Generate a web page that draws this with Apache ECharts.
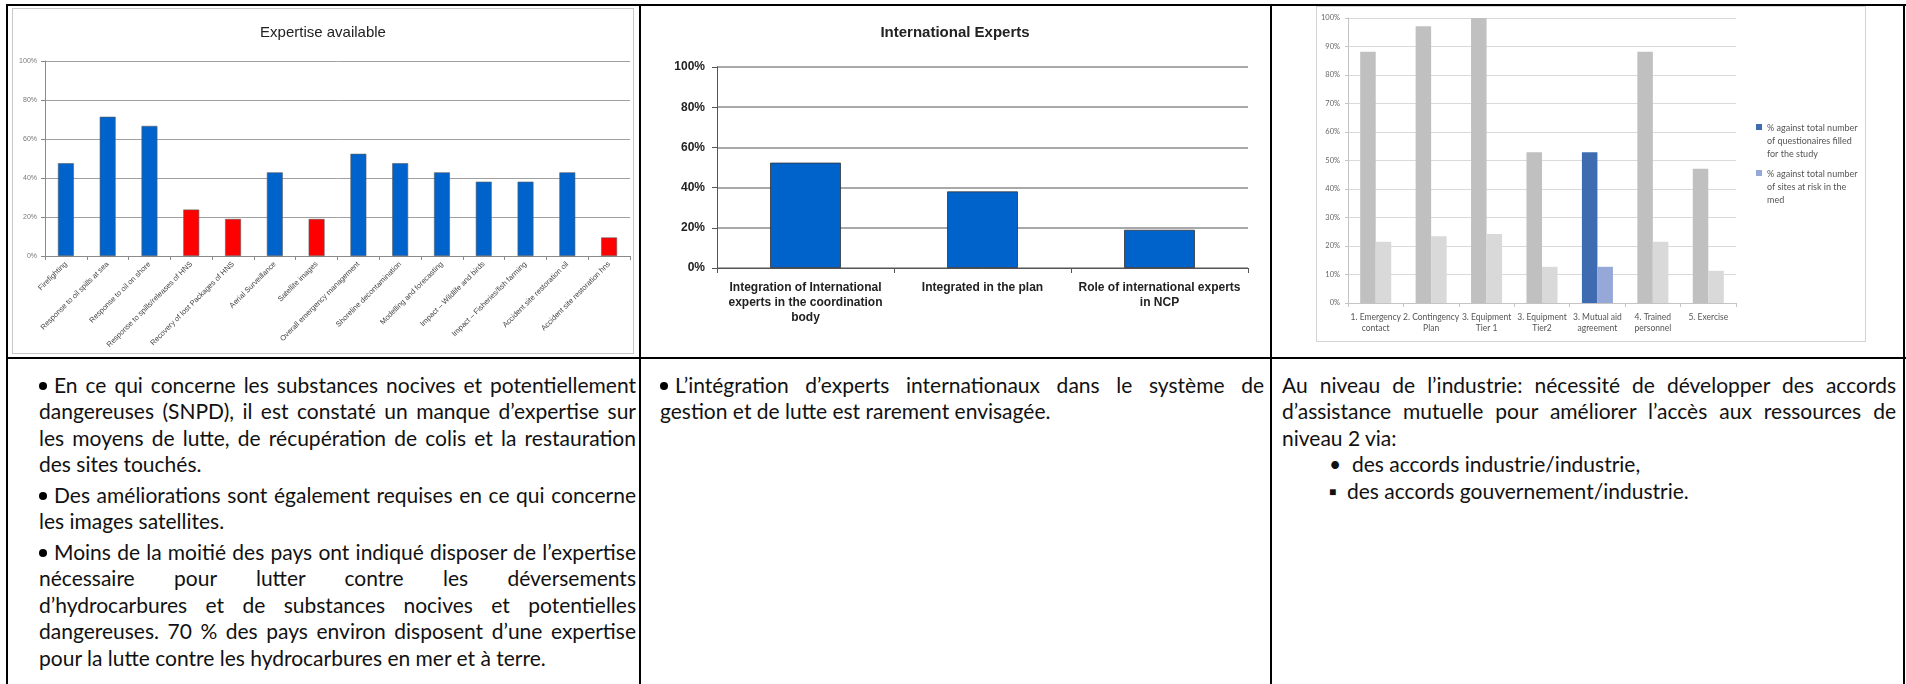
<!DOCTYPE html>
<html><head><meta charset="utf-8">
<script src="https://cdn.jsdelivr.net/npm/echarts@6/dist/echarts.min.js"></script>
<style>
html,body{margin:0;padding:0;background:#fff;width:1906px;height:684px;overflow:hidden;position:relative;font-family:Lato,"Open Sans",sans-serif;}
.ln{position:absolute;background:#000;}
.chart{position:absolute;}
.t{position:absolute;font-size:21px;line-height:26px;height:26px;color:#111;}
.j{text-align:justify;text-align-last:justify;}
.dot{display:inline-block;width:8px;height:8px;border-radius:50%;background:#000;vertical-align:middle;margin-right:7px;position:relative;top:-2px;}
</style></head><body>
<!-- table lines -->
<div class="ln" style="left:6px;top:4px;width:1900px;height:2px"></div>
<div class="ln" style="left:6px;top:4px;width:2px;height:690px"></div>
<div class="ln" style="left:639px;top:4px;width:2px;height:690px"></div>
<div class="ln" style="left:1270px;top:4px;width:2px;height:690px"></div>
<div class="ln" style="left:1903px;top:4px;width:2px;height:690px"></div>
<div class="ln" style="left:6px;top:357px;width:1900px;height:2px"></div>

<div id="c1" class="chart" style="left:12px;top:8px;width:622px;height:346px;border:1px solid #c8c8c8;box-sizing:border-box"></div>
<div id="c2" class="chart" style="left:648px;top:8px;width:614px;height:340px"></div>
<div id="c3" class="chart" style="left:1316px;top:6px;width:550px;height:336px;border:1px solid #d4d4d4;box-sizing:border-box"></div>

<!-- column 1 text -->
<div class="t j" style="left:39px;top:372px;width:597px"><span class="dot"></span>En ce qui concerne les substances nocives et potentiellement</div>
<div class="t j" style="left:39px;top:398px;width:597px">dangereuses (SNPD), il est constaté un manque d’expertise sur</div>
<div class="t j" style="left:39px;top:425px;width:597px">les moyens de lutte, de récupération de colis et la restauration</div>
<div class="t" style="left:39px;top:451px;width:597px">des sites touchés.</div>
<div class="t j" style="left:39px;top:482px;width:597px"><span class="dot"></span>Des améliorations sont également requises en ce qui concerne</div>
<div class="t" style="left:39px;top:508px;width:597px">les images satellites.</div>
<div class="t j" style="left:39px;top:539px;width:597px"><span class="dot"></span>Moins de la moitié des pays ont indiqué disposer de l’expertise</div>
<div class="t j" style="left:39px;top:565px;width:597px">nécessaire pour lutter contre les déversements</div>
<div class="t j" style="left:39px;top:592px;width:597px">d’hydrocarbures et de substances nocives et potentielles</div>
<div class="t j" style="left:39px;top:618px;width:597px">dangereuses. 70&nbsp;% des pays environ disposent d’une expertise</div>
<div class="t" style="left:39px;top:645px;width:597px">pour la lutte contre les hydrocarbures en mer et à terre.</div>

<!-- column 2 text -->
<div class="t j" style="left:660px;top:372px;width:604px"><span class="dot"></span>L’intégration d’experts internationaux dans le système de</div>
<div class="t" style="left:660px;top:398px;width:604px">gestion et de lutte est rarement envisagée.</div>

<!-- column 3 text -->
<div class="t j" style="left:1282px;top:372px;width:614px">Au niveau de l’industrie: nécessité de développer des accords</div>
<div class="t j" style="left:1282px;top:398px;width:614px">d’assistance mutuelle pour améliorer l’accès aux ressources de</div>
<div class="t" style="left:1282px;top:425px;width:614px">niveau 2 via:</div>
<div class="t" style="left:1329px;top:451px;width:560px">•&nbsp; des accords industrie/industrie,</div>
<div class="t" style="left:1329px;top:478px;width:560px"><span style="font-size:12px;position:relative;top:-3px">■</span>&nbsp; des accords gouvernement/industrie.</div>

<script>
// ---- Chart 1: Expertise available ----
const expertiseCategories = [
  'Firefighting', 'Response to oil spills at sea', 'Response to oil on shore',
  'Response to spills/releases of HNS', 'Recovery of lost Packages of HNS',
  'Aerial Surveillance', 'Satellite images', 'Overall emergency management',
  'Shoreline decontamination', 'Modelling and forecasting',
  'Impact – Wildlife and birds', 'Impact – Fisheries/fish farming',
  'Accident site restoration oil', 'Accident site restoration hns'
];
const expertiseValues = [47.6, 71.4, 66.7, 23.8, 19.0, 42.9, 19.0, 52.4, 47.6, 42.9, 38.1, 38.1, 42.9, 9.5];
const expertiseLacking = [3, 4, 6, 13];

// ---- Chart 2: International Experts ----
const intlCategories = [
  'Integration of International\nexperts in the coordination\nbody',
  'Integrated in the plan',
  'Role of international experts\nin NCP'
];
const intlValues = [52.4, 38.1, 19.0];

// ---- Chart 3: industry ----
const industryCategories = [
  '1. Emergency\ncontact', '2. Contingency\nPlan', '3. Equipment\nTier 1',
  '3. Equipment\nTier2', '3. Mutual aid\nagreement', '4. Trained\npersonnel', '5. Exercise'
];
const seriesNames3 = [
  '% against total number\nof questionaires filled\nfor the study',
  '% against total number\nof sites at risk in the\nmed'
];
const questionnaireValues = [88.2, 97.1, 100, 52.9, 52.9, 88.2, 47.1];
const sitesValues = [21.5, 23.4, 24.2, 12.7, 12.7, 21.5, 11.3];
const highlightIndex = 4;

const ARIAL = 'Liberation Sans';

const c1 = echarts.init(document.getElementById('c1'), null, {renderer: 'canvas'});
c1.setOption({
  animation: false,
  title: {text: 'Expertise available', left: 'center', top: 11,
    textStyle: {fontFamily: ARIAL, fontSize: 15, fontWeight: 'normal', color: '#222'}},
  grid: {left: 32, right: 3, top: 52, bottom: 97},
  xAxis: {type: 'category', data: expertiseCategories,
    axisLine: {lineStyle: {color: '#8a8a8a'}},
    axisTick: {show: true, length: 4, lineStyle: {color: '#8a8a8a'}},
    axisLabel: {interval: 0, rotate: 45, fontSize: 7.5, color: '#444', margin: 7, fontFamily: ARIAL}},
  yAxis: {type: 'value', min: 0, max: 100, interval: 20,
    axisLine: {show: true, lineStyle: {color: '#8a8a8a'}},
    axisTick: {show: true, length: 4, lineStyle: {color: '#8a8a8a'}},
    axisLabel: {formatter: '{value}%', fontSize: 7, color: '#777', margin: 8, fontFamily: ARIAL},
    splitLine: {lineStyle: {color: '#a0a0a0'}}},
  series: [{type: 'bar', barWidth: '38%',
    data: expertiseValues.map((v, i) => ({value: v,
      itemStyle: {color: expertiseLacking.includes(i) ? '#ff0000' : '#0063cc'}})),
    itemStyle: {borderColor: '#5a5a5a', borderWidth: 0.6}}]
});

const c2 = echarts.init(document.getElementById('c2'), null, {renderer: 'canvas'});
c2.setOption({
  animation: false,
  title: {text: 'International Experts', left: 'center', top: 12,
    textStyle: {fontFamily: ARIAL, fontSize: 15, fontWeight: 'bold', color: '#222'}},
  grid: {left: 69, right: 14, top: 59, bottom: 80},
  xAxis: {type: 'category', data: intlCategories,
    axisLine: {lineStyle: {color: '#555'}},
    axisTick: {show: true, length: 5, lineStyle: {color: '#555'}},
    axisLabel: {interval: 0, fontSize: 12, fontWeight: 'bold', color: '#222', lineHeight: 15, margin: 12, fontFamily: ARIAL}},
  yAxis: {type: 'value', min: 0, max: 100, interval: 20,
    axisLine: {show: true, lineStyle: {color: '#555'}},
    axisTick: {show: true, length: 5, lineStyle: {color: '#555'}},
    axisLabel: {formatter: '{value}%', fontSize: 12, fontWeight: 'bold', color: '#222', margin: 12, fontFamily: ARIAL},
    splitLine: {lineStyle: {color: '#8c8c8c', width: 1.5}}},
  series: [{type: 'bar', barWidth: '40%', data: intlValues,
    itemStyle: {color: '#0063cc', borderColor: '#333', borderWidth: 0.8}}]
});

// legend icon: small square at the top of a tall (invisible) box so it sits beside the first text line
const topSquare = 'path://M0,0h0.01v0.01h-0.01z M0,3h6v6h-6z M0,39.99h0.01v0.01h-0.01z';
const c3 = echarts.init(document.getElementById('c3'), null, {renderer: 'canvas'});
c3.setOption({
  animation: false,
  color: ['#3f6cb0', '#95a8d8'],
  legend: {orient: 'vertical', left: 434, top: 109, itemWidth: 6, itemHeight: 40, itemGap: 6,
    icon: topSquare, data: seriesNames3,
    textStyle: {fontSize: 9, color: '#555', lineHeight: 13.3, fontFamily: 'Lato'}},
  grid: {left: 31, right: 129, top: 11, bottom: 38},
  xAxis: {type: 'category', data: industryCategories,
    axisLine: {lineStyle: {color: '#c4c4c4'}},
    axisTick: {show: true, length: 4, lineStyle: {color: '#c4c4c4'}},
    axisLabel: {interval: 0, fontSize: 8.5, color: '#555', lineHeight: 11, margin: 9, fontFamily: 'Lato'}},
  yAxis: {type: 'value', min: 0, max: 100, interval: 10,
    axisLine: {show: true, lineStyle: {color: '#c4c4c4'}},
    axisTick: {show: true, length: 3, lineStyle: {color: '#c4c4c4'}},
    axisLabel: {formatter: '{value}%', fontSize: 7.5, color: '#666', margin: 8, fontFamily: 'Lato'},
    splitLine: {lineStyle: {color: '#dadada'}}},
  series: [
    {type: 'bar', name: seriesNames3[0], barGap: '0%', barCategoryGap: '44%',
      data: questionnaireValues.map((v, i) => ({value: v,
        itemStyle: {color: i === highlightIndex ? '#3f6cb0' : '#c0c0c0'}}))},
    {type: 'bar', name: seriesNames3[1],
      data: sitesValues.map((v, i) => ({value: v,
        itemStyle: {color: i === highlightIndex ? '#95a8d8' : '#d9d9d9'}}))}
  ]
});
</script>
</body></html>
